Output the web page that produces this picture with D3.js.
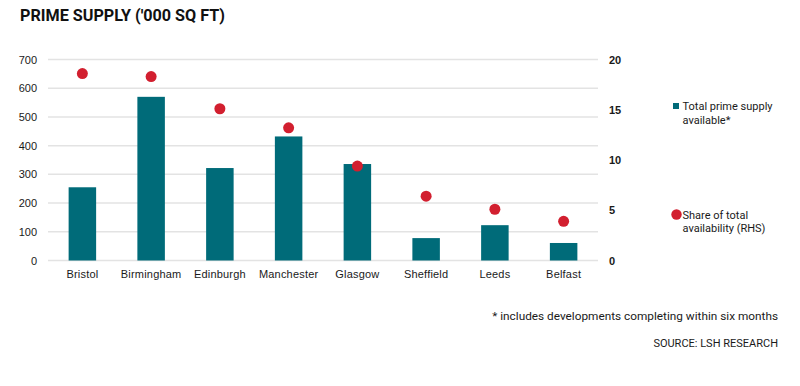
<!DOCTYPE html>
<html>
<head>
<meta charset="utf-8">
<script src="https://cdn.jsdelivr.net/npm/d3@7"></script>
<style>
  body { margin: 0; background: #fff; }
  svg { font-family: "Roboto", "Liberation Sans", sans-serif; }
</style>
</head>
<body>
<svg id="viz"></svg>
<script>
// Prime supply chart
const cities = ["Bristol", "Birmingham", "Edinburgh", "Manchester", "Glasgow", "Sheffield", "Leeds", "Belfast"];
const supply = [255, 570, 322, 432, 336, 78, 123, 61];
const share = [18.6, 18.3, 15.1, 13.2, 9.4, 6.4, 5.1, 3.9];
const leftTicks = [0, 100, 200, 300, 400, 500, 600, 700];
const rightTicks = [0, 5, 10, 15, 20];

const width = 800, height = 386;
const teal = "#006b79", red = "#d21f2f", ink = "#1a1a1a";

const svg = d3.select("#viz").attr("width", width).attr("height", height);

const margin = { top: 59.5, left: 48, right: 202, bottom: 125.5 };
const plotW = width - margin.left - margin.right;
const plotH = height - margin.top - margin.bottom;

const g = svg.append("g").attr("transform", `translate(${margin.left},${margin.top})`);

const x = d3.scaleBand().domain(cities).range([0, plotW]).paddingInner(0.6).paddingOuter(0.3);
const yL = d3.scaleLinear().domain([0, 700]).range([plotH, 0]);
const yR = d3.scaleLinear().domain([0, 20]).range([plotH, 0]);

// gridlines
g.selectAll(".grid")
  .data(leftTicks)
  .enter()
  .append("line")
  .attr("x1", 0).attr("x2", plotW)
  .attr("y1", d => yL(d)).attr("y2", d => yL(d))
  .attr("stroke", "#e3e3e3")
  .attr("stroke-width", 1.5);

// left axis
const axL = g.append("g")
  .call(d3.axisLeft(yL).tickValues(leftTicks).tickSize(0).tickPadding(11));
axL.select(".domain").remove();
axL.selectAll("text")
  .style("font-size", "11px").style("font-weight", "500").attr("fill", ink);

// right axis
const axR = g.append("g")
  .attr("transform", `translate(${plotW},0)`)
  .call(d3.axisRight(yR).tickValues(rightTicks).tickSize(0).tickPadding(11));
axR.select(".domain").remove();
axR.selectAll("text")
  .style("font-size", "11px").style("font-weight", "700").attr("fill", ink);

// bottom axis
const axB = g.append("g")
  .attr("transform", `translate(0,${plotH})`)
  .call(d3.axisBottom(x).tickSize(0).tickPadding(10));
axB.select(".domain").remove();
axB.selectAll("text")
  .style("font-size", "11px").style("font-weight", "500")
  .style("letter-spacing", "0.2px").attr("fill", ink);

// bars
g.selectAll(".bar")
  .data(cities)
  .enter()
  .append("rect")
  .attr("x", d => x(d))
  .attr("width", x.bandwidth())
  .attr("y", (d, i) => yL(supply[i]))
  .attr("height", (d, i) => plotH - yL(supply[i]))
  .attr("fill", teal);

// dots
g.selectAll(".dot")
  .data(cities)
  .enter()
  .append("circle")
  .attr("cx", d => x(d) + x.bandwidth() / 2)
  .attr("cy", (d, i) => yR(share[i]))
  .attr("r", 5.5)
  .attr("fill", red);

// title
svg.append("text")
  .attr("x", 20).attr("y", 20.5)
  .style("font-size", "16.5px").style("font-weight", "700")
  .attr("fill", "#111")
  .attr("textLength", 205).attr("lengthAdjust", "spacingAndGlyphs")
  .text("PRIME SUPPLY ('000 SQ FT)");

// legend
const lg = svg.append("g").attr("transform", "translate(673,0)");
const legendText = (y, s) => lg.append("text").attr("x", 9.5).attr("y", y)
  .style("font-size", "11px").attr("fill", ink).text(s);
lg.append("rect").attr("x", 0).attr("y", 103).attr("width", 6).attr("height", 6).attr("fill", teal);
legendText(110, "Total prime supply");
legendText(123.5, "available*");
lg.append("circle").attr("cx", 3.5).attr("cy", 214.5).attr("r", 5.2).attr("fill", red);
legendText(218.5, "Share of total");
legendText(232, "availability (RHS)");

// notes
svg.append("text")
  .attr("x", 778).attr("y", 320).attr("text-anchor", "end")
  .style("font-size", "11.8px").attr("fill", ink)
  .text("* includes developments completing within six months");
svg.append("text")
  .attr("x", 778).attr("y", 347).attr("text-anchor", "end")
  .style("font-size", "11px").attr("fill", ink)
  .text("SOURCE: LSH RESEARCH");
</script>
</body>
</html>
